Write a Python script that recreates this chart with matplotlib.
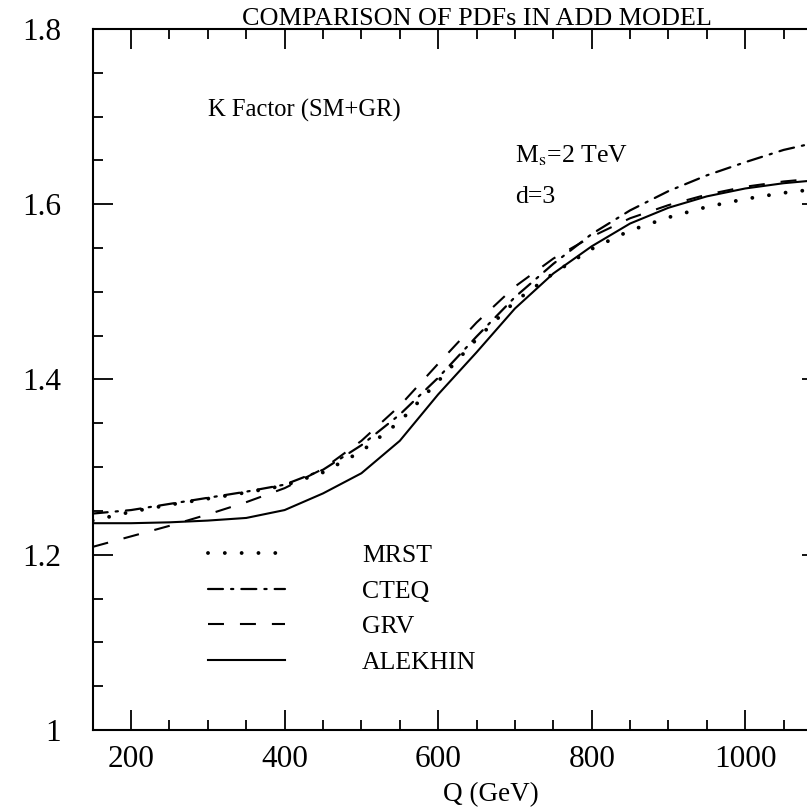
import numpy as np
import matplotlib.pyplot as plt
from matplotlib.ticker import MultipleLocator, FuncFormatter

plt.rcParams['font.family'] = ['Liberation Serif', 'DejaVu Serif']
plt.rcParams['mathtext.fontset'] = 'stix'
plt.rcParams['lines.scale_dashes'] = False

# Q (GeV) and K factor
Q = [150, 200, 250, 300, 350, 400, 450, 500, 550, 600, 650, 700, 750, 800,
     850, 900, 950, 1000, 1050, 1100]
mrst = [1.239, 1.249, 1.257, 1.264, 1.271, 1.279, 1.294, 1.318, 1.352, 1.398,
        1.446, 1.489, 1.521, 1.549, 1.570, 1.585, 1.597, 1.606, 1.613, 1.618]
cteq = [1.247, 1.251, 1.258, 1.265, 1.272, 1.280, 1.297, 1.325, 1.360, 1.402,
        1.449, 1.494, 1.532, 1.566, 1.593, 1.615, 1.633, 1.648, 1.662, 1.672]
grv = [1.209, 1.221, 1.233, 1.246, 1.260, 1.276, 1.298, 1.330, 1.370, 1.418,
       1.465, 1.506, 1.538, 1.563, 1.584, 1.599, 1.611, 1.620, 1.626, 1.630]
alekhin = [1.236, 1.236, 1.237, 1.239, 1.242, 1.251, 1.270, 1.293, 1.330, 1.383,
           1.431, 1.481, 1.521, 1.552, 1.578, 1.596, 1.609, 1.618, 1.624, 1.628]

fig = plt.figure(figsize=(8.07, 8.07), dpi=100)
W = 807.0
ax = fig.add_axes([92.7 / W, 77 / W, 729.3 / W, 701 / W])

ax.plot(Q, mrst, color='black', lw=2.8, linestyle=(0, (0.01, 12.1)),
        dash_capstyle='round', label='MRST')
ax.plot(Q, cteq, color='black', lw=1.6, linestyle=(0, (10.8, 5.8, 1.6, 5.8)),
        dash_capstyle='round', label='CTEQ')
ax.plot(Q, grv, color='black', lw=1.5, linestyle=(0, (11.5, 11.5)),
        dash_capstyle='butt', label='GRV')
ax.plot(Q, alekhin, color='black', lw=1.5, label='ALEKHIN')

ax.set_xlim(150, 1100)
ax.set_ylim(1.0, 1.8)
ax.xaxis.set_major_locator(MultipleLocator(200))
ax.xaxis.set_minor_locator(MultipleLocator(50))
ax.yaxis.set_major_locator(MultipleLocator(0.2))
ax.yaxis.set_minor_locator(MultipleLocator(0.05))
ax.yaxis.set_major_formatter(FuncFormatter(lambda v, p: f"{v:g}"))

ax.tick_params(which='both', direction='in', top=True, right=True, width=1.3)
ax.tick_params(which='major', length=14.4)
ax.tick_params(which='minor', length=7.2)
ax.tick_params(axis='x', which='major', labelsize=22.5, pad=11)
ax.tick_params(axis='y', which='major', labelsize=22.5, pad=23)
for s in ax.spines.values():
    s.set_linewidth(1.5)

fig.text(476.5 / W, 1 - 25 / W, 'COMPARISON OF PDFs IN ADD MODEL',
         ha='center', va='baseline', fontsize=18.8)
fig.text(491 / W, 1 - 801 / W, 'Q (GeV)', ha='center', va='baseline', fontsize=19.5)
fig.text(208 / W, 1 - 117 / W, 'K Factor (SM+GR)', ha='left', va='baseline', fontsize=17.7)
fig.text(515 / W, 1 - 162 / W, r'M$_{\rm s}$=2 TeV', ha='left', va='baseline', fontsize=18.5)
fig.text(515 / W, 1 - 203 / W, 'd=3', ha='left', va='baseline', fontsize=18.5)

ax.legend(loc='upper left', bbox_to_anchor=(208 / W, 1 - 544 / W),
          bbox_transform=fig.transFigure, frameon=False, fontsize=18.5,
          borderpad=0, borderaxespad=0, handlelength=3.0, handletextpad=3.0,
          labelspacing=0.49)

fig.savefig('out.png', dpi=100)
